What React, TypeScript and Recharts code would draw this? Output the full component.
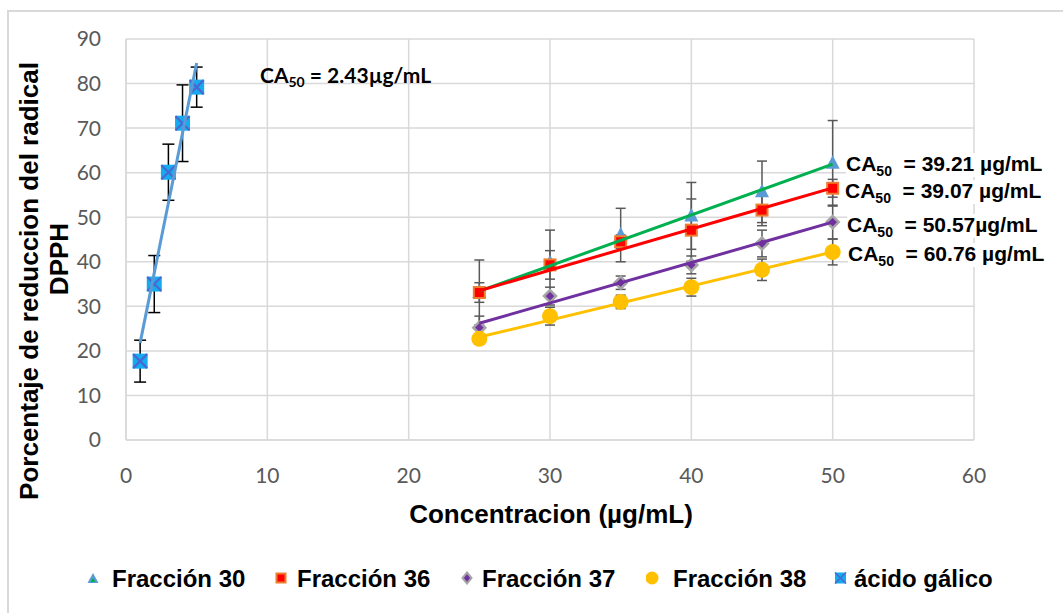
import React from "react";
import { ComposedChart, Scatter, XAxis, YAxis, CartesianGrid, ErrorBar } from "recharts";

// ácido gálico (standard)
const GALLIC_X = [1, 2, 3, 4, 5];
const GALLIC_Y = [17.7, 35.0, 60.1, 71.1, 79.2];
const GALLIC_ERR = [4.7, 6.4, 6.3, 8.6, 4.5];
const GALLIC_TREND_X = [1, 5];
const GALLIC_TREND_Y = [21.8, 84.6];

// fractions
const CONC = [25, 30, 35, 40, 45, 50];
const F30_Y = [33.1, 39.8, 46.0, 50.3, 55.7, 62.1];
const F30_ERR = [7.3, 7.3, 6.0, 7.5, 6.9, 9.6];
const F36_Y = [33.1, 39.3, 44.5, 47.1, 51.6, 56.5];
const F36_ERR = [2.2, 3.2, 1.5, 7.0, 3.5, 2.0];
const F37_Y = [25.2, 32.3, 35.3, 39.3, 44.1, 48.9];
const F37_ERR = [2.6, 2.0, 1.5, 2.0, 3.0, 3.8];
const F38_Y = [22.7, 27.8, 31.0, 34.3, 38.2, 42.2];
const F38_ERR = [1.0, 2.0, 1.5, 2.0, 2.4, 2.9];

// linear trend lines (end points)
const TREND_X = [25, 50];
const F30_TREND = [33.4, 61.9];
const F36_TREND = [33.5, 56.6];
const F37_TREND = [26.2, 48.9];
const F38_TREND = [23.1, 42.2];

const X_TICKS = [0, 10, 20, 30, 40, 50, 60];
const Y_TICKS = [0, 10, 20, 30, 40, 50, 60, 70, 80, 90];

const CA50_LABELS = [
  { value: "39.21", unit: " µg/mL", top: 153, left: 846 },
  { value: "39.07", unit: " µg/mL", top: 180, left: 845 },
  { value: "50.57", unit: "µg/mL", top: 214, left: 847 },
  { value: "60.76", unit: " µg/mL", top: 243, left: 848 },
];

const toPoints = (xs: number[], ys: number[], errs?: number[]) =>
  xs.map((x, i) => ({ x, y: ys[i], e: errs ? errs[i] : 0 }));

const ARIAL = "'Liberation Sans', Arial, sans-serif";
const TICK_FONT = "Lato, 'Open Sans', sans-serif";

// marker shapes
const Triangle = ({ cx, cy }: any) => (
  <polygon points={`${cx},${cy - 8} ${cx - 7},${cy + 5.5} ${cx + 7},${cy + 5.5}`} fill="#5B9BD5" />
);
const RedSquare = ({ cx, cy }: any) => (
  <rect x={cx - 5.5} y={cy - 5.5} width={11} height={11} fill="#FF0000" stroke="#ED7D31" strokeWidth={2} />
);
const Diamond = ({ cx, cy }: any) => (
  <polygon
    points={`${cx},${cy - 6} ${cx + 6},${cy} ${cx},${cy + 6} ${cx - 6},${cy}`}
    fill="#7030A0"
    stroke="#A5A5A5"
    strokeWidth={2.5}
  />
);
const YellowDot = ({ cx, cy }: any) => <circle cx={cx} cy={cy} r={8} fill="#FFC000" />;
const GallicMark = ({ cx, cy }: any) => (
  <g>
    <rect x={cx - 7.5} y={cy - 7.5} width={15} height={15} fill="#14ACF0" />
    <path
      d={`M${cx - 7},${cy - 7}L${cx + 7},${cy + 7}M${cx + 7},${cy - 7}L${cx - 7},${cy + 7}`}
      stroke="#4A68D0"
      strokeWidth={2.2}
    />
  </g>
);
const NoMark = () => <g />;

const YTitle = () => (
  <g fontFamily={ARIAL} fontWeight="bold" fontSize={26} fill="#000">
    <text x={38} y={281} transform="rotate(-90 38 281)" textAnchor="middle">
      Porcentaje de reduccion del radical
    </text>
    <text x={68} y={259} transform="rotate(-90 68 259)" textAnchor="middle">
      DPPH
    </text>
  </g>
);

const XTitle = () => (
  <text x={551} y={523} fontFamily={ARIAL} fontWeight="bold" fontSize={26} fill="#000" textAnchor="middle">
    Concentracion (µg/mL)
  </text>
);

const legendItems = [
  {
    name: "Fracción 30",
    iconX: 87,
    textX: 112,
    icon: (
      <g>
        <polygon points="6,2 0.5,12 11.5,12" fill="#5B9BD5" />
        <polygon points="6,7 3.5,11 8.5,11" fill="#00B050" />
      </g>
    ),
  },
  {
    name: "Fracción 36",
    iconX: 275,
    textX: 297,
    icon: <rect x={1.5} y={2.5} width={9} height={9} fill="#FF0000" stroke="#ED7D31" strokeWidth={2} />,
  },
  {
    name: "Fracción 37",
    iconX: 461,
    textX: 482,
    icon: <polygon points="6,1.5 10.5,7 6,12.5 1.5,7" fill="#7030A0" stroke="#A5A5A5" strokeWidth={2} />,
  },
  { name: "Fracción 38", iconX: 646, textX: 673, icon: <circle cx={6} cy={7} r={6.5} fill="#FFC000" /> },
  {
    name: "ácido gálico",
    iconX: 834,
    textX: 854,
    icon: (
      <g>
        <rect x={1} y={1.5} width={11} height={11} fill="#14ACF0" />
        <path d="M1,1.5L12,12.5M12,1.5L1,12.5" stroke="#4A68D0" strokeWidth={1.6} />
      </g>
    ),
  },
];

export default function App() {
  return (
    <div style={{ position: "absolute", left: 0, top: 0, width: 1063, height: 613, background: "#fff", overflow: "hidden" }}>
      <div
        style={{
          position: "absolute",
          left: 7,
          top: 10,
          width: 1070,
          height: 620,
          borderLeft: "2px solid #d9d9d9",
          borderTop: "2px solid #d9d9d9",
        }}
      />
      <div style={{ position: "absolute", left: 0, top: 0 }}>
        <ComposedChart width={1063} height={613} margin={{ top: 39, right: 89, left: 0, bottom: 0 }}>
          <CartesianGrid stroke="#d9d9d9" strokeWidth={1.5} />
          <XAxis
            type="number"
            dataKey="x"
            domain={[0, 60]}
            ticks={X_TICKS}
            height={173}
            stroke="#d9d9d9"
            strokeWidth={1.5}
            tickLine={false}
            tickSize={0}
            tickMargin={28}
            tick={{ fontSize: 21, fill: "#595959", fontFamily: TICK_FONT }}
            allowDataOverflow
            label={{ content: () => <XTitle /> }}
          />
          <YAxis
            type="number"
            dataKey="y"
            domain={[0, 90]}
            ticks={Y_TICKS}
            width={126}
            stroke="#d9d9d9"
            strokeWidth={1.5}
            tickLine={false}
            tickSize={0}
            tickMargin={25}
            tick={{ fontSize: 21, fill: "#595959", fontFamily: TICK_FONT }}
            allowDataOverflow
            label={{ content: () => <YTitle /> }}
          />

          <Scatter name="Fracción 30" data={toPoints(CONC, F30_Y, F30_ERR)} dataKey="y" shape={Triangle} isAnimationActive={false}>
            <ErrorBar dataKey="e" direction="y" width={5} stroke="#595959" strokeWidth={1.5} />
          </Scatter>
          <Scatter name="Fracción 36" data={toPoints(CONC, F36_Y, F36_ERR)} dataKey="y" shape={RedSquare} isAnimationActive={false}>
            <ErrorBar dataKey="e" direction="y" width={5} stroke="#595959" strokeWidth={1.5} />
          </Scatter>
          <Scatter name="Fracción 37" data={toPoints(CONC, F37_Y, F37_ERR)} dataKey="y" shape={Diamond} isAnimationActive={false}>
            <ErrorBar dataKey="e" direction="y" width={5} stroke="#595959" strokeWidth={1.5} />
          </Scatter>
          <Scatter name="Fracción 38" data={toPoints(CONC, F38_Y, F38_ERR)} dataKey="y" shape={YellowDot} isAnimationActive={false}>
            <ErrorBar dataKey="e" direction="y" width={5} stroke="#595959" strokeWidth={1.5} />
          </Scatter>
          <Scatter name="ácido gálico" data={toPoints(GALLIC_X, GALLIC_Y, GALLIC_ERR)} dataKey="y" shape={GallicMark} isAnimationActive={false}>
            <ErrorBar dataKey="e" direction="y" width={6} stroke="#000" strokeWidth={1.5} />
          </Scatter>

          {/* trend lines */}
          <Scatter data={toPoints(TREND_X, F30_TREND)} dataKey="y" shape={NoMark} line={{ stroke: "#00B050", strokeWidth: 3 }} isAnimationActive={false} />
          <Scatter data={toPoints(TREND_X, F36_TREND)} dataKey="y" shape={NoMark} line={{ stroke: "#FF0000", strokeWidth: 3 }} isAnimationActive={false} />
          <Scatter data={toPoints(TREND_X, F37_TREND)} dataKey="y" shape={NoMark} line={{ stroke: "#7030A0", strokeWidth: 3 }} isAnimationActive={false} />
          <Scatter data={toPoints(TREND_X, F38_TREND)} dataKey="y" shape={NoMark} line={{ stroke: "#FFC000", strokeWidth: 3 }} isAnimationActive={false} />
          <Scatter data={toPoints(GALLIC_TREND_X, GALLIC_TREND_Y)} dataKey="y" shape={NoMark} line={{ stroke: "#5B9BD5", strokeWidth: 3 }} isAnimationActive={false} />
        </ComposedChart>
      </div>

      {/* CA50 annotations */}
      <div
        style={{ position: "absolute", left: 260, top: 64, fontFamily: TICK_FONT, fontWeight: 700, fontSize: 21, lineHeight: "21px", whiteSpace: "nowrap" }}
      >
        CA<span style={{ fontSize: 14, position: "relative", top: 4 }}>50</span> = 2.43µg/mL
      </div>
      {CA50_LABELS.map((l) => (
        <div
          key={l.value}
          style={{
            position: "absolute",
            left: l.left,
            top: l.top,
            fontFamily: ARIAL,
            fontWeight: 700,
            fontSize: 21,
            lineHeight: "21px",
            background: "#fff",
            whiteSpace: "pre",
            paddingRight: 2,
          }}
        >
          CA<span style={{ fontSize: 14, position: "relative", top: 5 }}>50</span>
          {"  = " + l.value + l.unit}
        </div>
      ))}

      {/* legend */}
      {legendItems.map((it) => (
        <React.Fragment key={it.name}>
          <svg width={13} height={14} style={{ position: "absolute", left: it.iconX, top: 571 }}>
            {it.icon}
          </svg>
          <div
            style={{
              position: "absolute",
              left: it.textX,
              top: 566,
              fontFamily: ARIAL,
              fontWeight: 700,
              fontSize: 24,
              lineHeight: "26px",
              whiteSpace: "nowrap",
            }}
          >
            {it.name}
          </div>
        </React.Fragment>
      ))}
    </div>
  );
}
